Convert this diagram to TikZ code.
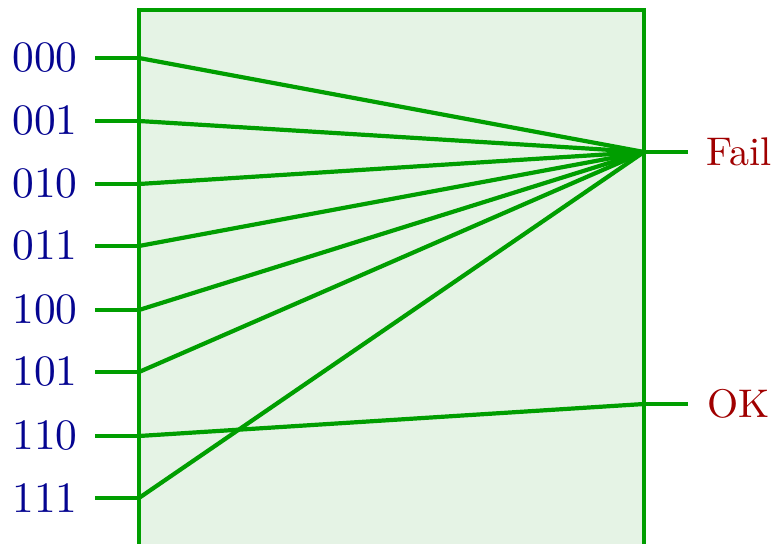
\documentclass[tikz,border=0pt]{standalone}
\definecolor{wire}{RGB}{0,158,0}
\definecolor{boxfill}{RGB}{229,243,229}
\definecolor{inlab}{RGB}{5,5,145}
\definecolor{outlab}{RGB}{160,0,0}
\newcommand{\inscale}[1]{\scalebox{2.17}{#1}}
\newcommand{\outscale}[1]{\scalebox{2.0}{#1}}
\begin{document}
\begin{tikzpicture}[x=0.5pt,y=-0.5pt,
  wireline/.style={draw=wire,line width=2.1pt},
  inlabel/.style={anchor=east,inner sep=0pt,text=inlab,font=\fontsize{10}{12}\selectfont},
  outlabel/.style={anchor=west,inner sep=0pt,text=outlab,font=\fontsize{10}{12}\selectfont}]
\useasboundingbox (0,0) rectangle (775,544);
\begin{scope}
\clip (0,0) rectangle (775,544);
\filldraw[fill=boxfill,draw=wire,line width=2.1pt] (139,10) rectangle (644,560);
\end{scope}
% input points
\foreach \n/\y [count=\i] in {000/58,001/121,010/184,011/246,100/310,101/372,110/436,111/498}{
  \coordinate (s\i) at (95,\y);
  \coordinate (p\i) at (139,\y);
  \node[inlabel] (l\i) at (78,\y) {\inscale{\n}};
  \draw[wireline] (s\i) -- (p\i);
}
\coordinate (fail) at (644,152);
\coordinate (ok) at (644,404);
\coordinate (failend) at (688,152);
\coordinate (okend) at (688,404);
\node[outlabel] (faillab) at (706,152) {\outscale{Fail}};
\node[outlabel] (oklab) at (707,404) {\outscale{OK}};
\draw[wireline] (fail) -- (failend);
\draw[wireline] (ok) -- (okend);
\foreach \i in {1,2,3,4,5,6,8}{
  \draw[wireline] (p\i) -- (fail);
}
\draw[wireline] (p7) -- (ok);
\end{tikzpicture}
\end{document}
